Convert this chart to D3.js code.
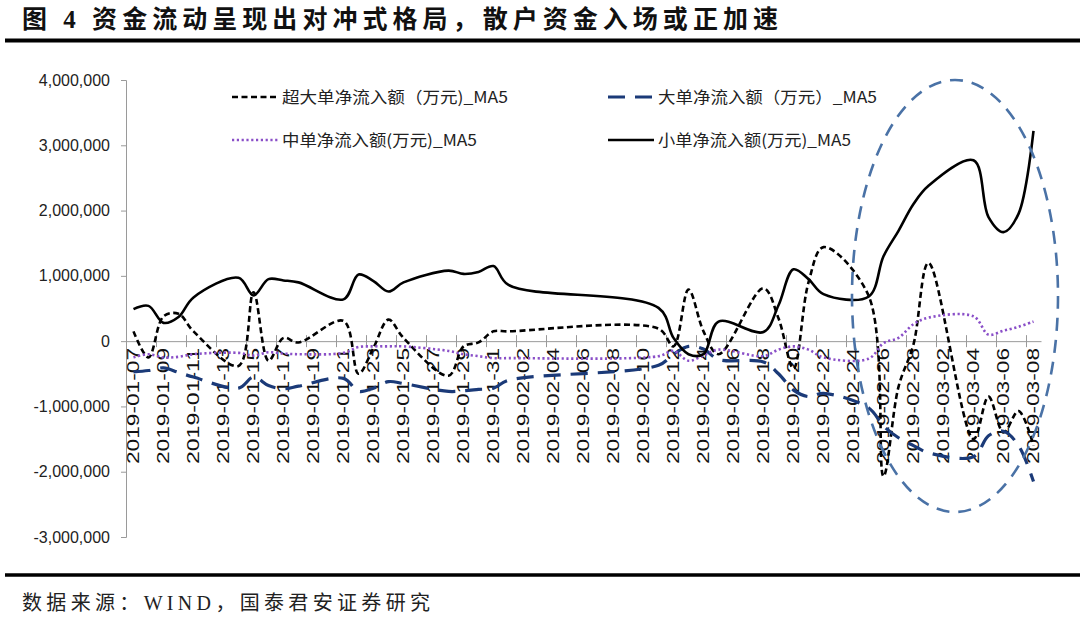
<!DOCTYPE html>
<html>
<head>
<meta charset="utf-8">
<script src="https://cdn.jsdelivr.net/npm/d3@7"></script>
<style>
  html, body { margin: 0; padding: 0; background: #fff; }
  svg { display: block; }
</style>
</head>
<body>
<svg id="chart" width="1080" height="617"></svg>
<script>
// ---------- data ----------
const tradeDates = ["2019-01-07","2019-01-08","2019-01-09","2019-01-10","2019-01-11",
  "2019-01-14","2019-01-15","2019-01-16","2019-01-17","2019-01-18",
  "2019-01-21","2019-01-22","2019-01-23","2019-01-24","2019-01-25",
  "2019-01-28","2019-01-29","2019-01-30","2019-01-31","2019-02-01",
  "2019-02-11","2019-02-12","2019-02-13","2019-02-14","2019-02-15",
  "2019-02-18","2019-02-19","2019-02-20","2019-02-21","2019-02-22",
  "2019-02-25","2019-02-26","2019-02-27","2019-02-28","2019-03-01",
  "2019-03-04","2019-03-05","2019-03-06","2019-03-07","2019-03-08"];

const superLarge = [150000,-250000,380000,420000,150000,-380000,750000,-300000,50000,-20000,
  310000,-500000,-100000,330000,50000,-530000,-80000,-20000,150000,150000,
  190000,-80000,790000,150000,-200000,810000,350000,-420000,900000,1440000,
  700000,-2070000,-700000,-50000,1200000,-1500000,-850000,-1400000,-1070000,-1600000];

const large = [-470000,-450000,-410000,-480000,-550000,-720000,-550000,-680000,-730000,-690000,
  -570000,-770000,-720000,-620000,-650000,-770000,-760000,-740000,-720000,-600000,
  -370000,-200000,-80000,-120000,-280000,-320000,-500000,-750000,-850000,-800000,
  -1020000,-1300000,-1480000,-1600000,-1710000,-1770000,-1450000,-1380000,-1600000,-2150000];

const medium = [-250000,-200000,-250000,-240000,-200000,-180000,-220000,-170000,-190000,-200000,
  -180000,-90000,-80000,-80000,-80000,-150000,-200000,-230000,-260000,-260000,
  -230000,-150000,-300000,-220000,-130000,-230000,-130000,-80000,-130000,-250000,
  -270000,-30000,50000,260000,360000,380000,100000,160000,220000,300000];

const small = [490000,540000,280000,370000,670000,970000,700000,950000,930000,900000,
  640000,1020000,920000,760000,900000,1080000,1030000,1060000,1150000,860000,
  510000,50000,-200000,-200000,300000,140000,550000,1100000,950000,720000,
  680000,1300000,1690000,2100000,2380000,2770000,1900000,1670000,1950000,3220000];

const seriesNames = ["超大单净流入额（万元)_MA5","大单净流入额（万元）_MA5","中单净流入额(万元)_MA5","小单净流入额(万元)_MA5"];

const yTicks = [-3000000,-2000000,-1000000,0,1000000,2000000,3000000,4000000];

const xLabels = ["2019-01-07","2019-01-09","2019-01-11","2019-01-13","2019-01-15","2019-01-17",
  "2019-01-19","2019-01-21","2019-01-23","2019-01-25","2019-01-27","2019-01-29","2019-01-31",
  "2019-02-02","2019-02-04","2019-02-06","2019-02-08","2019-02-10","2019-02-12","2019-02-14",
  "2019-02-16","2019-02-18","2019-02-20","2019-02-22","2019-02-24","2019-02-26","2019-02-28",
  "2019-03-02","2019-03-04","2019-03-06","2019-03-08"];

const titleText = "图 4  资金流动呈现出对冲式格局，散户资金入场或正加速";
const sourceText = "数据来源：WIND，国泰君安证券研究";

// ---------- setup ----------
const svg = d3.select("#chart");
const parse = d3.utcParse("%Y-%m-%d");
const HALF = 12 * 3600 * 1000;
const DAY = 24 * 3600 * 1000;
const d0 = parse("2019-01-07"), d1 = parse("2019-03-08");

const x = d3.scaleUtc()
  .domain([new Date(+d0 - HALF), new Date(+d1 + HALF)])
  .range([126, 1041]);
const y = d3.scaleLinear().domain([-3000000, 4000000]).range([537, 80]);

const axisColor = "#9a9a9a";
const fmt = d3.format(",");

// title
svg.append("text")
  .attr("x", 22).attr("y", 28)
  .attr("font-family", "'Liberation Serif', 'Noto Sans CJK SC', serif")
  .attr("font-weight", "bold")
  .attr("font-size", 25)
  .attr("textLength", 756).attr("lengthAdjust", "spacing")
  .attr("fill", "#111")
  .text(titleText);
svg.append("line").attr("x1", 5).attr("x2", 1080).attr("y1", 40.5).attr("y2", 40.5)
  .attr("stroke", "#000").attr("stroke-width", 4);

// footer
svg.append("line").attr("x1", 5).attr("x2", 1080).attr("y1", 575).attr("y2", 575)
  .attr("stroke", "#000").attr("stroke-width", 3.5);
svg.append("text")
  .attr("x", 22).attr("y", 610)
  .attr("font-family", "'Liberation Serif', 'Noto Sans CJK SC', serif")
  .attr("font-size", 20)
  .attr("textLength", 408).attr("lengthAdjust", "spacing")
  .attr("fill", "#222")
  .text(sourceText);

// y axis
const yAxis = svg.append("g").attr("transform", "translate(126,0)")
  .call(d3.axisLeft(y).tickValues(yTicks).tickSize(5).tickPadding(11)
    .tickFormat(v => fmt(v).replace("\u2212", "-")));
yAxis.select(".domain").attr("stroke", axisColor);
yAxis.selectAll(".tick line").attr("stroke", axisColor);
yAxis.selectAll(".tick text")
  .attr("font-family", "'Liberation Sans', Arial, sans-serif")
  .attr("font-size", 16).attr("fill", "#222");

// x axis (at y=0)
const bounds = d3.range(0, 62, 2).map(i => new Date(+d0 - HALF + i * DAY));
const xAxis = svg.append("g").attr("transform", `translate(0,${y(0)})`)
  .call(d3.axisBottom(x).tickValues(bounds).tickSizeInner(6).tickSizeOuter(0).tickFormat(""));
xAxis.select(".domain").attr("stroke", axisColor);
xAxis.selectAll(".tick line").attr("stroke", axisColor).attr("y1", -6).attr("y2", 6);

svg.append("g").selectAll("text").data(xLabels).join("text")
  .attr("transform", d => `translate(${x(parse(d))},348) rotate(-90)`)
  .attr("dy", "0.36em")
  .attr("text-anchor", "end")
  .attr("font-family", "'Liberation Sans', Arial, sans-serif")
  .attr("font-size", 16)
  .attr("textLength", 116).attr("lengthAdjust", "spacingAndGlyphs")
  .attr("fill", "#111")
  .text(d => d);

// lines
const dates = tradeDates.map(parse);
const lineGen = vals => d3.line()
  .x((d, i) => x(dates[i]))
  .y(d => y(d))
  .curve(d3.curveCatmullRom.alpha(0.5))(vals);

const styles = [
  { vals: superLarge, color: "#000", w: 2.6, dash: "6,3.5" },
  { vals: large, color: "#1b3a78", w: 3.2, dash: "17,10" },
  { vals: medium, color: "#8a4fc8", w: 2.6, dash: "2.2,2.6" },
  { vals: small, color: "#000", w: 2.6, dash: null }
];
const plotG = svg.append("g");
styles.forEach(s => {
  plotG.append("path")
    .attr("d", lineGen(s.vals))
    .attr("fill", "none")
    .attr("stroke", s.color)
    .attr("stroke-width", s.w)
    .attr("stroke-dasharray", s.dash)
    .attr("stroke-linejoin", "round");
});

// legend
const legendItems = [
  { s: styles[0], name: seriesNames[0], x: 232, y: 97, len: 226 },
  { s: styles[1], name: seriesNames[1], x: 608, y: 97, len: 219 },
  { s: styles[2], name: seriesNames[2], x: 232, y: 140, len: 195 },
  { s: styles[3], name: seriesNames[3], x: 608, y: 140, len: 193 }
];
const lg = svg.append("g");
legendItems.forEach(it => {
  lg.append("line")
    .attr("x1", it.x).attr("x2", it.x + 46)
    .attr("y1", it.y).attr("y2", it.y)
    .attr("stroke", it.s.color).attr("stroke-width", it.s.w)
    .attr("stroke-dasharray", it.s.dash);
  lg.append("text")
    .attr("x", it.x + 50).attr("y", it.y + 6)
    .attr("font-family", "'Noto Sans CJK SC', sans-serif")
    .attr("font-size", 16)
    .attr("textLength", it.len).attr("lengthAdjust", "spacingAndGlyphs")
    .attr("fill", "#222")
    .text(it.name);
});

// highlight ellipse
svg.append("ellipse")
  .attr("cx", 955).attr("cy", 296).attr("rx", 103).attr("ry", 216)
  .attr("fill", "none").attr("stroke", "#4a72a6")
  .attr("stroke-width", 2.6).attr("stroke-dasharray", "13,9");
</script>
</body>
</html>
